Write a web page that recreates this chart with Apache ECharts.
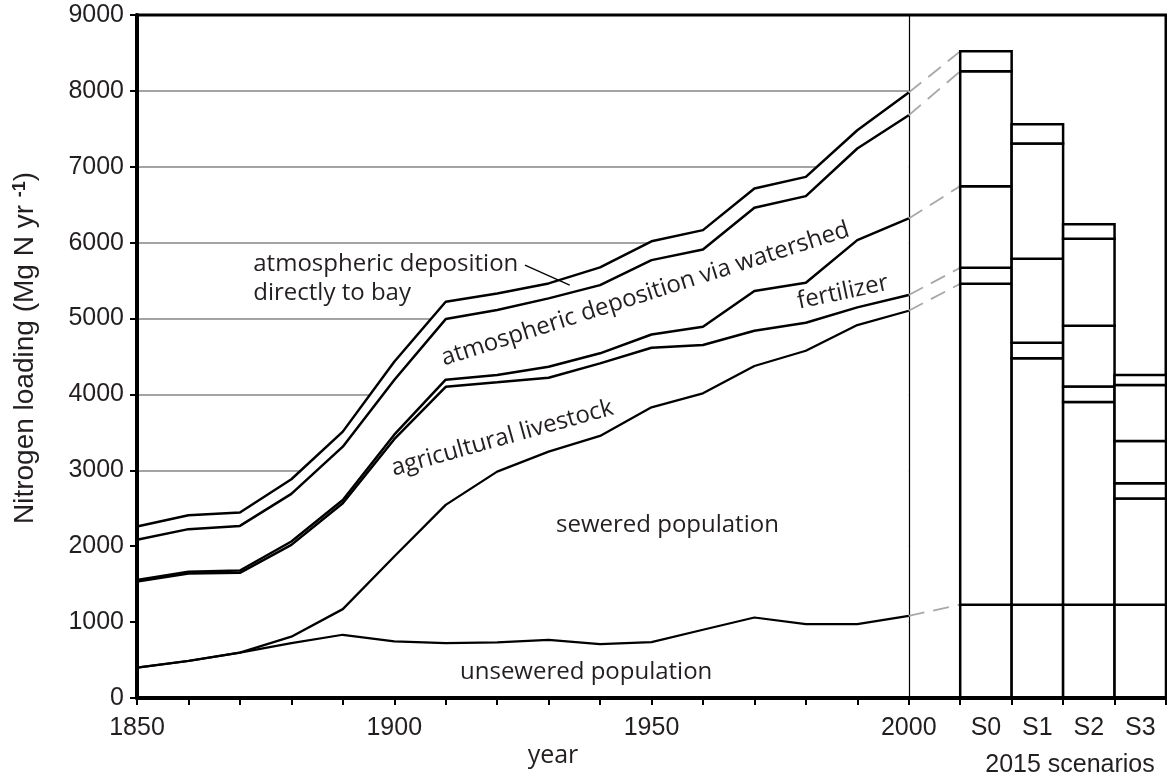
<!DOCTYPE html>
<html>
<head>
<meta charset="utf-8">
<script src="https://cdn.jsdelivr.net/npm/echarts@6/dist/echarts.min.js"></script>
<style>html,body{margin:0;padding:0;background:#fff}#c{width:1167px;height:781px}</style>
</head>
<body>
<div id="c"></div>
<script>
// ---- data ----
const years = [1850,1860,1870,1880,1890,1900,1910,1920,1930,1940,1950,1960,1970,1980,1990,2000];
const yearLabels = [1850,1900,1950,2000];
// cumulative tops of each band (Mg N / yr)
const unseweredTop  = [400, 488, 598, 724, 833, 745, 724, 732, 767, 710, 737, 900, 1061, 974, 974, 1083];
const seweredTop    = [400, 488, 598, 808, 1171, 1864, 2545, 2983, 3247, 3453, 3830, 4015, 4375, 4576, 4914, 5103];
const livestockTop  = [1535, 1640, 1650, 2018, 2567, 3410, 4100, 4160, 4221, 4410, 4616, 4651, 4840, 4945, 5147, 5310];
const fertilizerTop = [1555, 1665, 1680, 2062, 2610, 3470, 4195, 4256, 4366, 4542, 4790, 4892, 5362, 5471, 6033, 6319];
const watershedTop  = [2084, 2225, 2268, 2690, 3312, 4190, 4993, 5112, 5266, 5441, 5770, 5911, 6459, 6613, 7241, 7679];
const directTop     = [2259, 2409, 2444, 2883, 3510, 4431, 5221, 5331, 5463, 5674, 6018, 6165, 6714, 6867, 7482, 7978];
// 2015 scenarios, cumulative tops
const scenarios       = ['S0','S1','S2','S3'];
const scenUnsewered   = [1230, 1230, 1230, 1230];
const scenSewered     = [5458, 4476, 3902, 2630];
const scenLivestock   = [5669, 4681, 4105, 2830];
const scenFertilizer  = [6745, 5787, 4905, 3387];
const scenWatershed   = [8258, 7306, 6051, 4125];
const scenDirect      = [8521, 7560, 6244, 4256];
const gridValues = [1000,2000,3000,4000,5000,6000,7000,8000];
const scenarioYear = 2010;   // left edge of the scenario bars on the year axis
const lastYear = 2000;

// ---- styles / layout ----
const axisFont = '"Liberation Sans", Arial, sans-serif';
const textFont = '"Open Sans", sans-serif';
const ink = '#231f20';
const annotations = [
  {text:'atmospheric deposition\ndirectly to bay', at:[1872.6, 5520], rot:0, align:'left'},
  {text:'atmospheric deposition via watershed', at:[1948.8, 5321], rot:17.7, align:'center'},
  {text:'fertilizer', at:[1987.2, 5344], rot:12, align:'center'},
  {text:'agricultural livestock', at:[1921, 3423], rot:15.6, align:'center'},
  {text:'sewered population', at:[1953.1, 2281], rot:0, align:'center'},
  {text:'unsewered population', at:[1937.3, 346], rot:0, align:'center'}
];
const leader = [[1925.4, 5704], [1934.1, 5441]];

const pairs = arr => years.map((y, i) => [y, arr[i]]);
const lineSeries = (arr, w) => ({
  type:'line', xAxisIndex:0, yAxisIndex:0, data:pairs(arr), symbol:'none', z:3,
  lineStyle:{color:'#000', width:w}, silent:true
});

const tops = [unseweredTop, seweredTop, livestockTop, fertilizerTop, watershedTop, directTop];
const scenTops = [scenUnsewered, scenSewered, scenLivestock, scenFertilizer, scenWatershed, scenDirect];
const nBins = (scenarioYear + 10*scenarios.length - years[0]) / 10;
const nPre = nBins - scenarios.length;
const binLabels = Array(nPre).fill('').concat(scenarios);

// scenario segments: [xStart, xEnd, lower, upper]
const segments = [];
scenarios.forEach((s, i) => {
  scenTops.forEach((tp, k) => {
    segments.push([scenarioYear + 10*i, scenarioYear + 10*(i+1), k ? scenTops[k-1][i] : 0, tp[i]]);
  });
});

const connectors = tops.map((tp, k) => ({coords:[[lastYear, tp[tp.length-1]], [scenarioYear, scenTops[k][0]]]}));

const option = {
  animation:false,
  backgroundColor:'#fff',
  grid:{left:137, right:1, top:15, bottom:83, show:true, borderColor:'#000', borderWidth:3, containLabel:false, outerBoundsMode:'none'},
  xAxis:[
    {type:'value', min:1850, max:2050, interval:10, position:'bottom', z:5,
     axisLine:{show:true, lineStyle:{color:'#000', width:4}},
     axisTick:{show:true, length:7, lineStyle:{color:'#000', width:2}},
     axisLabel:{formatter: v => yearLabels.includes(v) ? String(v) : '', fontSize:25, fontFamily:axisFont, color:ink, margin:18},
     splitLine:{show:false}},
    {type:'category', data:binLabels, position:'bottom', boundaryGap:true, z:5,
     axisLine:{show:false}, axisTick:{show:false},
     axisLabel:{interval:0, fontSize:25, fontFamily:axisFont, color:ink, margin:18},
     splitLine:{show:false}}
  ],
  yAxis:[{type:'value', min:0, max:9000, interval:1000, z:5,
    axisLine:{show:true, lineStyle:{color:'#000', width:4}},
    axisTick:{show:true, length:7, lineStyle:{color:'#000', width:2}},
    axisLabel:{formatter: v => String(v), fontSize:25, fontFamily:axisFont, color:ink, margin:13},
    splitLine:{show:false},
    name:'Nitrogen loading (Mg N yr {sup|-1})', nameLocation:'middle', nameGap:98, nameRotate:90,
    nameTextStyle:{fontSize:28, fontFamily:axisFont, color:ink, padding:[0,0,0,17],
      rich:{sup:{fontSize:18, fontWeight:'bold', fontFamily:axisFont, color:ink, verticalAlign:'top'}}}
  }],
  series:[
    {type:'lines', coordinateSystem:'cartesian2d', xAxisIndex:0, yAxisIndex:0, z:1, silent:true,
     lineStyle:{color:'#a3a3a3', width:2, opacity:1},
     data: gridValues.map(v => ({coords:[[years[0], v], [lastYear, v]]}))},
    {type:'line', xAxisIndex:0, yAxisIndex:0, data:pairs(directTop), symbol:'none', z:2, silent:true,
     lineStyle:{color:'#000', width:2.5}, areaStyle:{color:'#fff', opacity:1}},
    lineSeries(unseweredTop, 2.2),
    lineSeries(seweredTop, 2.3),
    lineSeries(livestockTop, 2.5),
    lineSeries(fertilizerTop, 2.5),
    lineSeries(watershedTop, 2.5),
    {type:'lines', coordinateSystem:'cartesian2d', xAxisIndex:0, yAxisIndex:0, z:3, silent:true,
     lineStyle:{color:'#000', width:1.2, opacity:1},
     data:[{coords:[[lastYear, 0], [lastYear, 9000]]}, {coords:leader}]},
    {type:'lines', coordinateSystem:'cartesian2d', xAxisIndex:0, yAxisIndex:0, z:3, silent:true,
     lineStyle:{color:'#a8a8a8', width:1.8, opacity:1, type:[16, 9]},
     data:connectors},
    {type:'custom', xAxisIndex:0, yAxisIndex:0, z:3, silent:true, data:segments,
     encode:{x:[0,1], y:[2,3]},
     renderItem:(params, api) => {
       const a = api.coord([api.value(0), api.value(3)]);
       const b = api.coord([api.value(1), api.value(2)]);
       return {type:'rect', shape:{x:a[0], y:a[1], width:b[0]-a[0], height:b[1]-a[1]},
               style:{fill:'#fff', stroke:'#000', lineWidth:2.5}};
     }}
  ]
};

const chart = echarts.init(document.getElementById('c'));
chart.setOption(option);

const graphics = annotations.map(a => {
  const p = chart.convertToPixel({xAxisIndex:0, yAxisIndex:0}, a.at);
  return {type:'text', x:p[0], y:p[1], rotation:a.rot*Math.PI/180, z:10, silent:true,
    style:{text:a.text, fontSize:24, fontFamily:textFont, fill:ink, align:a.align, verticalAlign:'middle', lineHeight:29}};
});
graphics.push({type:'text', x:553, y:756, z:10, silent:true,
  style:{text:'year', fontSize:25, fontFamily:textFont, fill:ink, align:'center', verticalAlign:'middle'}});
graphics.push({type:'text', x:1070, y:765, z:10, silent:true,
  style:{text:'2015 scenarios', fontSize:25, fontFamily:axisFont, fill:ink, align:'center', verticalAlign:'middle'}});
chart.setOption({graphic:graphics});
</script>
</body>
</html>
